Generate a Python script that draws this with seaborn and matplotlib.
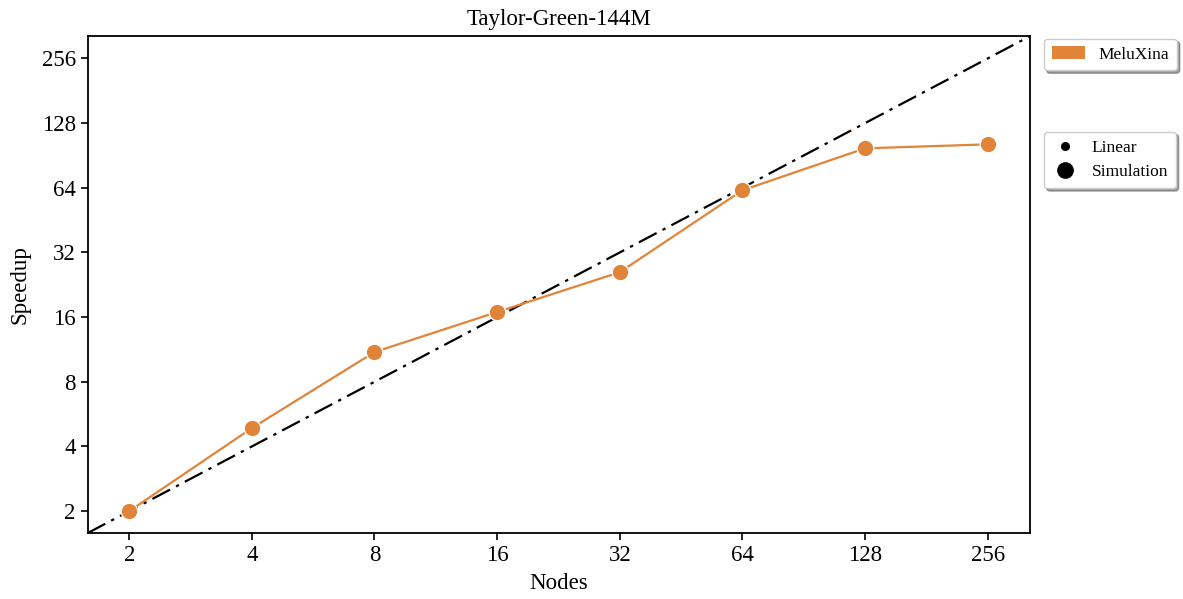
import matplotlib
matplotlib.use("Agg")
import matplotlib.pyplot as plt
from matplotlib.patches import Patch
from matplotlib.lines import Line2D
from matplotlib.ticker import FixedLocator, FixedFormatter, NullLocator
import numpy as np
import pandas as pd
import seaborn as sns

plt.rcParams["font.family"] = ["Liberation Serif", "DejaVu Serif"]
plt.rcParams["mathtext.fontset"] = "stix"

# Strong-scaling results
nodes = [2, 4, 8, 16, 32, 64, 128, 256]
speedup = [2.0, 4.87, 11.0, 16.9, 25.9, 62.3, 97.7, 102.0]
tick_values = [2, 4, 8, 16, 32, 64, 128, 256]
tick_labels = ["2", "4", "8", "16", "32", "64", "128", "256"]
axis_limits = (1.58, 326.0)
ideal = list(axis_limits)

system_name = "MeluXina"
system_color = "#E0843A"

df = pd.DataFrame({"Nodes": nodes, "Speedup": speedup})
ideal_df = pd.DataFrame({"Nodes": ideal, "Speedup": ideal})

fig, ax = plt.subplots(figsize=(11.83, 5.99), dpi=100)
fig.subplots_adjust(left=0.074, right=0.871, top=0.94, bottom=0.11)

sns.lineplot(data=ideal_df, x="Nodes", y="Speedup", ax=ax, color="black",
             linestyle=(0, (9, 3, 1.5, 3)), linewidth=1.6, zorder=2)
sns.lineplot(data=df, x="Nodes", y="Speedup", ax=ax, color=system_color,
             marker="o", markersize=12, markeredgecolor="white",
             markeredgewidth=1.0, linewidth=1.6, zorder=3)

ax.set_xscale("log", base=2)
ax.set_yscale("log", base=2)
ax.set_xlim(*axis_limits)
ax.set_ylim(*axis_limits)
for axis in (ax.xaxis, ax.yaxis):
    axis.set_major_locator(FixedLocator(tick_values))
    axis.set_major_formatter(FixedFormatter(tick_labels))
    axis.set_minor_locator(NullLocator())

ax.tick_params(axis="both", labelsize=16.5, length=5, width=1.2)
for s in ax.spines.values():
    s.set_linewidth(1.3)

ax.set_xlabel("Nodes", fontsize=16.5, labelpad=5)
ax.set_ylabel("Speedup", fontsize=16.5, labelpad=8)
ax.set_title("Taylor-Green-144M", fontsize=16.5, pad=8)

leg1 = ax.legend(handles=[Patch(facecolor=system_color, label=system_name)],
                 loc="upper left", bbox_to_anchor=(1.005, 1.012), fontsize=12.5,
                 shadow=True, fancybox=True, framealpha=1, edgecolor="#cccccc",
                 handlelength=1.9, handletextpad=0.8, borderpad=0.45)
ax.add_artist(leg1)
marker_handles = [
    Line2D([], [], linestyle="none", marker="o", color="black", markersize=5.5, label="Linear"),
    Line2D([], [], linestyle="none", marker="o", color="black", markersize=11, label="Simulation"),
]
ax.legend(handles=marker_handles, loc="upper left", bbox_to_anchor=(1.005, 0.825),
          fontsize=12.5, shadow=True, fancybox=True, framealpha=1,
          edgecolor="#cccccc", handlelength=1.5, borderpad=0.45)

fig.savefig("out.png", dpi=100)
